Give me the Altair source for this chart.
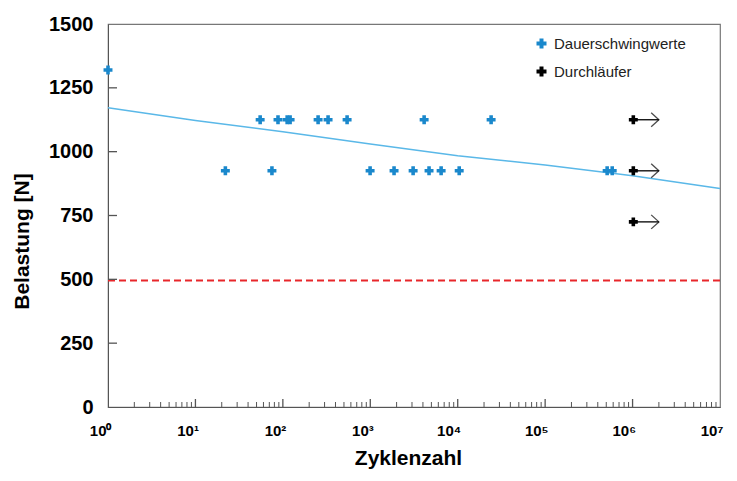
import altair as alt
import pandas as pd

# ---- data ----
blue_cycles = [1, 55, 88, 112, 121, 253, 329, 543, 4130, 24100,
               22, 75, 995, 1870, 3090, 4700, 6460, 10400, 512000, 585000]
blue_loads = [1320, 1125, 1125, 1125, 1125, 1125, 1125, 1125, 1125, 1125,
              925, 925, 925, 925, 925, 925, 925, 925, 925, 925]
runout_cycles = [1.02e6, 1.02e6, 1.02e6]
runout_loads = [1125, 925, 725]
arrow_end = [2.0e6, 2.0e6, 2.0e6]
fit_cycles = [1, 10, 100, 1000, 1e4, 1e5, 1e6, 1e7]
fit_loads = [1172, 1122, 1078, 1030, 984, 948, 906, 856]
limit_load = 495
x_ticks = [1, 10, 100, 1000, 1e4, 1e5, 1e6, 1e7]
y_ticks = [0, 250, 500, 750, 1000, 1250, 1500]
series_names = ["Dauerschwingwerte", "Durchläufer"]

BLUE = "#1a88cc"
LINE_BLUE = "#5ab8e8"
RED = "#e8262b"
FONT = "Liberation Sans"

minor = []
for d in range(7):
    for m in range(2, 10):
        minor.append(m * 10 ** d)

pts = pd.DataFrame({"x": blue_cycles + runout_cycles,
                    "y": blue_loads + runout_loads,
                    "s": [series_names[0]] * len(blue_cycles) + [series_names[1]] * len(runout_cycles)})
arrows = pd.DataFrame({"x": runout_cycles, "x2": arrow_end, "y": runout_loads})
fit = pd.DataFrame({"x": fit_cycles, "y": fit_loads})
minor_df = pd.DataFrame({"x": minor})
major_df = pd.DataFrame({"x": x_ticks[1:-1]})
ytick_df = pd.DataFrame({"y": y_ticks[1:-1]})

sup = "['⁰','¹','²','³','⁴','⁵','⁶','⁷']"
xscale = alt.Scale(type="log", domain=[1, 1e7], nice=False)
yscale = alt.Scale(domain=[0, 1500], nice=False)

xaxis = alt.Axis(values=x_ticks, labelExpr="'10' + " + sup + "[round(log(datum.value)/LN10)]",
                 tickSize=0, labelPadding=16, labelFontSize=15, labelFont=FONT, labelFontWeight="bold",
                 labelAlign="right", labelOffset=3,
                 title="Zyklenzahl", titleFontSize=21, titleFont=FONT, titleFontWeight="bold",
                 titlePadding=9, titleX=300, titleAnchor="middle",
                 grid=False, domainColor="#555", labelColor="black", titleColor="black",
                 labelFlush=False)
yaxis = alt.Axis(values=y_ticks, format="d", tickSize=0, labelPadding=15, labelFontSize=20, labelFont=FONT,
                 labelFontWeight="bold", title="Belastung [N]", titleFontSize=21, titleFont=FONT,
                 titleFontWeight="bold", titleX=-86, titleY=217, titleBaseline="middle",
                 grid=False, domainColor="#555", labelColor="black", titleColor="black")

X = alt.X("x:Q", scale=xscale, axis=xaxis)
Y = alt.Y("y:Q", scale=yscale, axis=yaxis)

base_rule = alt.Chart(fit).mark_line(color=LINE_BLUE, strokeWidth=1.5).encode(x=X, y=Y)

limit = alt.Chart(pd.DataFrame({"x": [1], "x2": [1e7], "y": [limit_load]})).mark_rule(
    color=RED, strokeWidth=2, strokeDash=[7, 4]).encode(x=alt.X("x:Q", scale=xscale), x2="x2:Q",
                                                         y=alt.Y("y:Q", scale=yscale))

shafts = alt.Chart(arrows).mark_rule(color="black", strokeWidth=1.3).encode(
    x=alt.X("x:Q", scale=xscale), x2="x2:Q", y=alt.Y("y:Q", scale=yscale))
heads = alt.Chart(arrows).mark_point(shape="M-1.1,-1L0,0L-1.1,1", filled=False, color="black",
                                     strokeWidth=1.3, size=196).encode(
    x=alt.X("x2:Q", scale=xscale), y=alt.Y("y:Q", scale=yscale))

points = alt.Chart(pts).mark_point(shape="cross", filled=True, size=80, opacity=1).encode(
    x=alt.X("x:Q", scale=xscale), y=alt.Y("y:Q", scale=yscale),
    color=alt.Color("s:N", scale=alt.Scale(domain=series_names, range=[BLUE, "black"]),
                    legend=alt.Legend(title=None, orient="none", legendX=426, legendY=12,
                                      symbolType="cross", symbolSize=100, symbolStrokeWidth=0,
                                      labelFontSize=15, labelFont=FONT, labelColor="#222",
                                      rowPadding=12, labelOffset=5)))

minor_ticks = alt.Chart(minor_df).mark_rule(color="#555", strokeWidth=1).encode(
    x=alt.X("x:Q", scale=xscale), y=alt.value(383), y2=alt.value(378))
major_ticks = alt.Chart(major_df).mark_rule(color="#555", strokeWidth=1.3).encode(
    x=alt.X("x:Q", scale=xscale), y=alt.value(383), y2=alt.value(375))
y_tick_marks = alt.Chart(ytick_df).mark_rule(color="#555", strokeWidth=1.3).encode(
    y=alt.Y("y:Q", scale=yscale), x=alt.value(0), x2=alt.value(9))

chart = alt.layer(base_rule, limit, shafts, heads, points, minor_ticks, major_ticks, y_tick_marks).properties(
    width=612, height=383,
    autosize=alt.AutoSizeParams(type="none"),
    padding={"left": 100, "top": 16, "right": 9, "bottom": 66},
    background="white",
).configure_view(stroke="#777", strokeWidth=1.2)

chart.save("out.html", embed_options={"renderer": "svg", "actions": False})
